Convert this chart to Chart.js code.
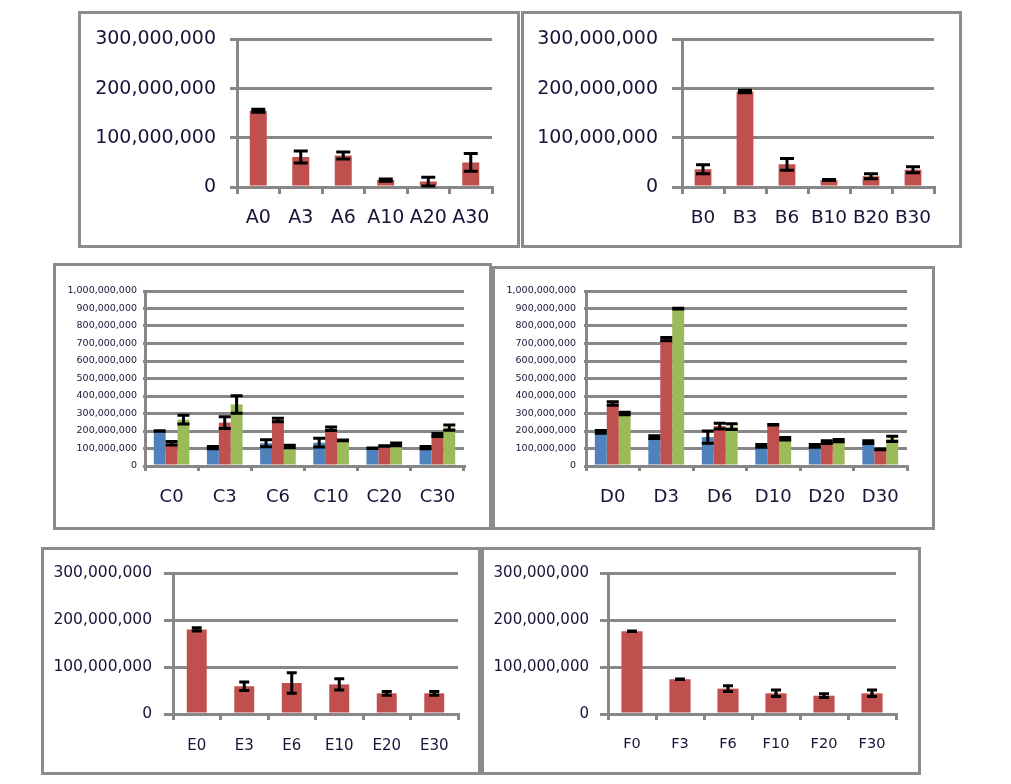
<!DOCTYPE html>
<html><head><meta charset="utf-8">
<script src="https://cdn.jsdelivr.net/npm/chart.js@4/dist/chart.umd.min.js"></script>
<style>
html,body{margin:0;padding:0;background:#fff;width:1011px;height:784px;overflow:hidden;}
.box{position:absolute;border:3px solid #8c8c8c;box-sizing:border-box;background:#fff;}
.box canvas{display:block;}
</style></head><body>
<div id="pA" class="box"><canvas id="cA"></canvas></div>
<div id="pB" class="box"><canvas id="cB"></canvas></div>
<div id="pC" class="box"><canvas id="cC"></canvas></div>
<div id="pD" class="box"><canvas id="cD"></canvas></div>
<div id="pE" class="box"><canvas id="cE"></canvas></div>
<div id="pF" class="box"><canvas id="cF"></canvas></div>
<script>
// ---------- data ----------
const aCategories = ['A0','A3','A6','A10','A20','A30'];
const aValues = [155e6, 61e6, 64e6, 14e6, 11e6, 50e6];
const aErrors = [3e6, 12e6, 7e6, 2.5e6, 9e6, 18e6];

const bCategories = ['B0','B3','B6','B10','B20','B30'];
const bValues = [36e6, 194e6, 46e6, 14e6, 22e6, 35e6];
const bErrors = [9e6, 2.5e6, 12e6, 1e6, 5e6, 6e6];

const cCategories = ['C0','C3','C6','C10','C20','C30'];
const cBlue = [200e6, 105e6, 130e6, 133e6, 101e6, 105e6];
const cBlueErr = [1.5e6, 6e6, 20e6, 25e6, 1.5e6, 7e6];
const cRed = [130e6, 248e6, 263e6, 213e6, 114e6, 177e6];
const cRedErr = [10e6, 33e6, 10e6, 10e6, 1.5e6, 9e6];
const cGreen = [265e6, 352e6, 112e6, 147e6, 124e6, 219e6];
const cGreenErr = [25e6, 50e6, 7e6, 2e6, 8e6, 15e6];

const dCategories = ['D0','D3','D6','D10','D20','D30'];
const dBlue = [195e6, 165e6, 165e6, 115e6, 115e6, 137e6];
const dBlueErr = [8e6, 8e6, 35e6, 8e6, 8e6, 8e6];
const dRed = [357e6, 725e6, 228e6, 236e6, 137e6, 95e6];
const dRedErr = [10e6, 9e6, 17e6, 1.5e6, 8e6, 1.5e6];
const dGreen = [300e6, 899e6, 225e6, 156e6, 145e6, 155e6];
const dGreenErr = [7e6, 2e6, 17e6, 7e6, 7e6, 15e6];

const eCategories = ['E0','E3','E6','E10','E20','E30'];
const eValues = [180e6, 59e6, 66e6, 63e6, 44e6, 44e6];
const eErrors = [3.5e6, 9e6, 22e6, 12e6, 4e6, 4e6];

const fCategories = ['F0','F3','F6','F10','F20','F30'];
const fValues = [176e6, 74e6, 54e6, 44e6, 39e6, 44e6];
const fErrors = [0.6e6, 0.6e6, 6e6, 7e6, 4e6, 7e6];

const smallTicks = [0, 100000000, 200000000, 300000000];
const bigTicks = [0, 100000000, 200000000, 300000000, 400000000, 500000000,
                  600000000, 700000000, 800000000, 900000000, 1000000000];

// ---------- styles ----------
const BLUE = '#4f81bd', RED = '#c0504d', GREEN = '#9bbb59';
const GRID = '#878787', TEXT = '#15153a';

const errorBarPlugin = {
  id: 'errorBars',
  afterDatasetsDraw(chart, args, opts) {
    const ctx = chart.ctx, y = chart.scales.y;
    chart.data.datasets.forEach((ds, di) => {
      if (!ds.errors) return;
      const meta = chart.getDatasetMeta(di);
      meta.data.forEach((bar, i) => {
        const v = ds.data[i], e = ds.errors[i];
        const top = y.getPixelForValue(v + e);
        const bot = y.getPixelForValue(Math.max(0, v - e));
        const x = bar.x, hw = opts.capWidth / 2;
        ctx.save();
        ctx.strokeStyle = '#000';
        ctx.lineWidth = opts.lineWidth;
        ctx.lineCap = 'butt';
        ctx.beginPath();
        ctx.moveTo(x, top); ctx.lineTo(x, bot);
        ctx.moveTo(x - hw, top); ctx.lineTo(x + hw, top);
        ctx.moveTo(x - hw, bot); ctx.lineTo(x + hw, bot);
        ctx.stroke();
        ctx.restore();
      });
    });
  }
};

function makePanel(p) {
  const box = document.getElementById(p.box);
  Object.assign(box.style, {left: p.bx + 'px', top: p.by + 'px', width: p.bw + 'px', height: p.bh + 'px'});
  const W = p.bw - 6, H = p.bh - 6;
  const ox = p.bx + 3, oy = p.by + 3;
  const canvas = document.getElementById(p.canvas);
  canvas.width = W; canvas.height = H;
  canvas.style.width = W + 'px'; canvas.style.height = H + 'px';
  const yW = p.area[0] - ox;
  const padTop = p.area[1] - oy;
  const padRight = W - (p.area[2] - ox);
  const xH = H - (p.area[3] - oy);
  new Chart(canvas, {
    type: 'bar',
    data: {labels: p.labels, datasets: p.datasets},
    plugins: [errorBarPlugin],
    options: {
      responsive: false, animation: false, devicePixelRatio: 1,
      layout: {padding: {top: padTop, right: padRight, left: 0, bottom: 0}},
      datasets: {bar: {categoryPercentage: p.catPct, barPercentage: p.barPct}},
      plugins: {legend: {display: false}, tooltip: {enabled: false},
        errorBars: {capWidth: p.cap, lineWidth: 3}},
      scales: {
        x: {
          grid: {display: true, drawOnChartArea: false, drawTicks: true, tickLength: p.xTick,
                 color: GRID, lineWidth: 3, offset: true},
          border: {display: true, color: GRID, width: 3},
          ticks: {color: TEXT, font: {family: 'DejaVu Sans', size: p.xFont}, padding: p.xPad, maxRotation: 0, autoSkip: false},
          afterFit(s) { s.height = xH; }
        },
        y: {
          min: 0, max: p.ticks[p.ticks.length - 1],
          grid: {color: GRID, lineWidth: 3, drawTicks: true, tickLength: p.yTick},
          border: {display: true, color: GRID, width: 3},
          ticks: {color: TEXT, font: {family: 'DejaVu Sans', size: p.yFont}, padding: p.yPad,
                  callback: v => Number(v).toLocaleString('en-US')},
          afterBuildTicks(s) { s.ticks = p.ticks.map(v => ({value: v})); },
          afterFit(s) { s.width = yW; }
        }
      }
    }
  });
}

function single(values, errors) {
  return [{data: values, errors: errors, backgroundColor: RED, borderWidth: 0}];
}
function triple(b, be, r, re, g, ge) {
  return [
    {data: b, errors: be, backgroundColor: BLUE, borderWidth: 0},
    {data: r, errors: re, backgroundColor: RED, borderWidth: 0},
    {data: g, errors: ge, backgroundColor: GREEN, borderWidth: 0}
  ];
}

makePanel({box: 'pA', canvas: 'cA', bx: 78, by: 11, bw: 442, bh: 237,
  area: [237, 38, 492, 187], labels: aCategories, datasets: single(aValues, aErrors),
  ticks: smallTicks, catPct: 1, barPct: 0.4, cap: 14,
  xFont: 19, yFont: 19, xPad: 13, yPad: 14, xTick: 7, yTick: 7});
makePanel({box: 'pB', canvas: 'cB', bx: 521, by: 11, bw: 441, bh: 237,
  area: [682, 38, 934, 187], labels: bCategories, datasets: single(bValues, bErrors),
  ticks: smallTicks, catPct: 1, barPct: 0.4, cap: 14,
  xFont: 18.5, yFont: 19, xPad: 13, yPad: 14, xTick: 7, yTick: 10});
makePanel({box: 'pC', canvas: 'cC', bx: 53, by: 263, bw: 439, bh: 267,
  area: [145, 291, 464, 466], labels: cCategories,
  datasets: triple(cBlue, cBlueErr, cRed, cRedErr, cGreen, cGreenErr),
  ticks: bigTicks, catPct: 0.67, barPct: 1, cap: 12,
  xFont: 18, yFont: 9.5, xPad: 16, yPad: 6, xTick: 5, yTick: 2});
makePanel({box: 'pD', canvas: 'cD', bx: 492, by: 266, bw: 443, bh: 264,
  area: [586, 291, 907, 466], labels: dCategories,
  datasets: triple(dBlue, dBlueErr, dRed, dRedErr, dGreen, dGreenErr),
  ticks: bigTicks, catPct: 0.67, barPct: 1, cap: 12,
  xFont: 18, yFont: 9.5, xPad: 16, yPad: 8, xTick: 5, yTick: 2});
makePanel({box: 'pE', canvas: 'cE', bx: 41, by: 547, bw: 440, bh: 228,
  area: [173, 573, 458, 714], labels: eCategories, datasets: single(eValues, eErrors),
  ticks: smallTicks, catPct: 1, barPct: 0.42, cap: 10,
  xFont: 15, yFont: 15.5, xPad: 17, yPad: 12, xTick: 6, yTick: 9});
makePanel({box: 'pF', canvas: 'cF', bx: 481, by: 547, bw: 440, bh: 228,
  area: [608, 573, 896, 714], labels: fCategories, datasets: single(fValues, fErrors),
  ticks: smallTicks, catPct: 1, barPct: 0.44, cap: 10,
  xFont: 14.5, yFont: 15, xPad: 16, yPad: 11, xTick: 6, yTick: 8});
</script>
</body></html>
